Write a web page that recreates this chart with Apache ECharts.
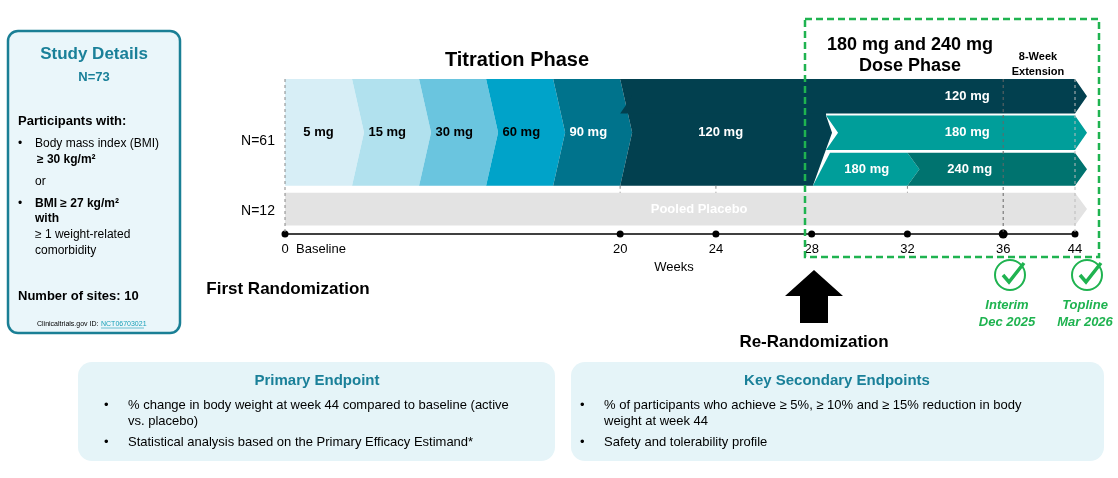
<!DOCTYPE html>
<html><head><meta charset="utf-8">
<script src="https://cdn.jsdelivr.net/npm/echarts@6/dist/echarts.min.js"></script>
<style>body{margin:0;background:#fff}#c{width:1118px;height:478px}</style>
</head><body><div id="c"></div>
<script>
// weeks on the axis and where each sits along it (axis is not linear)
var weekTicks = [0, 20, 24, 28, 32, 36, 44];
var tickSlots = [0, 3.5, 4.5, 5.5, 6.5, 7.5, 8.25];
// dose segments: [startWeek, endWeek, rowTop, rowBottom, left, right, color, label, labelWeek, textColor]
var titration = [
  [0, 4, 0, 3.1, 'flat', 'point', '#d7eef6', '5 mg', 2, '#000'],
  [4, 8, 0, 3.1, 'notch', 'point', '#b1e1ee', '15 mg', 6.1, '#000'],
  [8, 12, 0, 3.1, 'notch', 'point', '#6ac5df', '30 mg', 10.1, '#000'],
  [12, 16, 0, 3.1, 'notch', 'point', '#00a3c9', '60 mg', 14.1, '#000'],
  [16, 20, 0, 3.1, 'notch', 'point', '#00738c', '90 mg', 18.1, '#fff'],
  [20, 28.6, 0, 3.1, 'notch', 'split', '#02404f', '120 mg', 24.2, '#fff']
];
var dosePhase = [
  [20, 44, 0, 1, 'notch', 'point', '#02404f', '120 mg', 34.5, '#fff'],
  [28.6, 44, 1.06, 2.06, 'notch', 'point', '#009e9a', '180 mg', 34.5, '#fff'],
  [28.6, 32, 2.14, 3.1, 'slant', 'point', '#009e9a', '180 mg', 30.3, '#fff'],
  [32, 44, 2.14, 3.1, 'notch', 'point', '#00736f', '240 mg', 34.6, '#fff']
];
var placebo = [[0, 44, 3.3, 4.25, 'flat', 'point', '#e3e3e3', 'Pooled Placebo', 23.3, '#fff']];
var tickLabels = ['0', '20', '24', '28', '32', '36', '44'];

function slot(w) {
  for (var i = 1; i < weekTicks.length; i++) {
    if (w <= weekTicks[i]) {
      var a = weekTicks[i - 1], b = weekTicks[i];
      return tickSlots[i - 1] + (w - a) / (b - a) * (tickSlots[i] - tickSlots[i - 1]);
    }
  }
  return tickSlots[tickSlots.length - 1];
}

var segs = titration.concat(dosePhase, placebo);
var D = 12;
function renderSeg(params, api) {
  var s = segs[params.dataIndex];
  var p0 = api.coord([slot(s[0]), s[2]]), p1 = api.coord([slot(s[1]), s[3]]);
  var x0 = p0[0], x1 = p1[0], t = p0[1], b = p1[1], m = (t + b) / 2;
  var pts = [[x0, t], [x1, t]];
  if (s[5] === 'point') pts.push([x1 + D, m], [x1, b]);
  else if (s[5] === 'split') {
    var r2 = api.coord([0, 1.06])[1], r3 = api.coord([0, 2.06])[1];
    var xb = api.coord([slot(28.05), 0])[0];
    pts.push([x1, r2], [x1 + 6, (r2 + r3) / 2], [xb, b]);
  } else pts.push([x1, b]);
  if (s[4] === 'slant') {
    var xs = api.coord([slot(28.05), 0])[0];
    pts = [[x0 + 4, t], pts[1], pts[2], pts[3], [xs, b]];
  } else {
    pts.push([x0, b]);
    if (s[4] === 'notch') pts.push([x0 + D, m]);
  }
  var lx = api.coord([slot(s[8]), 0])[0];
  return {
    type: 'group',
    children: [
      { type: 'polygon', shape: { points: pts }, style: { fill: s[6] } },
      { type: 'text', x: lx, y: m, style: { text: s[7], fill: s[9], font: 'bold 13px Arial', align: 'center', verticalAlign: 'middle' } }
    ]
  };
}

function renderAxis(params, api) {
  var ch = [];
  var y = api.coord([0, 4.5])[1];
  var xs = api.coord([slot(0), 0])[0], xe = api.coord([slot(44), 0])[0];
  ch.push({ type: 'line', shape: { x1: xs, y1: y, x2: xe, y2: y }, style: { stroke: '#000', lineWidth: 1.5 } });
  weekTicks.forEach(function (w, i) {
    var x = api.coord([slot(w), 0])[0];
    ch.push({ type: 'circle', shape: { cx: x, cy: y, r: i === 5 ? 4.5 : 3.5 }, style: { fill: '#000' } });
    ch.push({ type: 'text', x: x, y: y + 15, style: { text: tickLabels[i], fill: '#000', font: '13px Arial', align: 'center', verticalAlign: 'middle' } });
  });
  var top = api.coord([0, 0])[1], r3b = api.coord([0, 3.1])[1], plt = api.coord([0, 3.3])[1];
  var dash = function (w, y1, y2, c) {
    var x = api.coord([slot(w), 0])[0];
    ch.push({ type: 'line', z2: 10, shape: { x1: x, y1: y1, x2: x, y2: y2 }, style: { stroke: c, lineWidth: 1, lineDash: [3, 3] } });
  };
  dash(0, top, y, '#888');
  [20, 24, 32].forEach(function (w) { dash(w, r3b, plt, '#888'); });
  dash(36, top, y, '#666');
  dash(44, top, y, '#bbb');
  return { type: 'group', children: ch };
}

var chart = echarts.init(document.getElementById('c'));
var T = function (x, y, text, font, fill, align) {
  return { type: 'text', x: x, y: y, style: { text: text, font: font, fill: fill || '#000', align: align || 'center', verticalAlign: 'middle' } };
};
var bullet = function (x, y, text) {
  return [T(x, y, '•', '13px Arial', '#000', 'left'), T(x + 24, y, text, '13px Arial', '#000', 'left')];
};
var graphics = [
  { type: 'rect', shape: { x: 8, y: 31, width: 172, height: 302, r: 10 }, style: { fill: '#eaf6fa', stroke: '#1a7f95', lineWidth: 2.5 } },
  T(94, 54, 'Study Details', 'bold 17px Arial', '#1a8099'),
  T(94, 77, 'N=73', 'bold 13px Arial', '#1a8099'),
  T(18, 121, 'Participants with:', 'bold 13px Arial', '#000', 'left'),
  T(18, 144, '•', '12px Arial', '#000', 'left'), T(35, 144, 'Body mass index (BMI)', '12px Arial', '#000', 'left'),
  T(37, 160, '≥ 30 kg/m²', 'bold 12px Arial', '#000', 'left'),
  T(35, 182, 'or', '12px Arial', '#000', 'left'),
  T(18, 204, '•', '12px Arial', '#000', 'left'), T(35, 204, 'BMI ≥ 27 kg/m²', 'bold 12px Arial', '#000', 'left'),
  T(35, 219, 'with', 'bold 12px Arial', '#000', 'left'),
  T(35, 235, '≥ 1 weight-related', '12px Arial', '#000', 'left'),
  T(35, 251, 'comorbidity', '12px Arial', '#000', 'left'),
  T(18, 296, 'Number of sites: 10', 'bold 13px Arial', '#000', 'left'),
  T(37, 324, 'Clinicaltrials.gov ID: ', '7px Arial', '#000', 'left'),
  T(101, 324, 'NCT06703021', '7px Arial', '#1aa0b8', 'left'),
  { type: 'line', shape: { x1: 101, y1: 328, x2: 144, y2: 328 }, style: { stroke: '#1aa0b8', lineWidth: 0.6 } },
  T(517, 60, 'Titration Phase', 'bold 20px Arial'),
  T(910, 45, '180 mg and 240 mg', 'bold 18px Arial'),
  T(910, 66, 'Dose Phase', 'bold 18px Arial'),
  T(1038, 57, '8-Week', 'bold 11px Arial'),
  T(1038, 72, 'Extension', 'bold 11px Arial'),
  T(258, 141, 'N=61', '14px Arial'),
  T(258, 211, 'N=12', '14px Arial'),
  T(296, 249, 'Baseline', '13px Arial', '#000', 'left'),
  T(674, 267, 'Weeks', '13px Arial'),
  T(288, 289, 'First Randomization', 'bold 17px Arial'),
  { type: 'polygon', shape: { points: [[814, 270], [843, 296], [828, 296], [828, 323], [800, 323], [800, 296], [785, 296]] }, style: { fill: '#000' } },
  T(814, 342, 'Re-Randomization', 'bold 17px Arial'),
  { type: 'rect', z: 20, shape: { x: 805, y: 19, width: 294, height: 238 }, style: { fill: 'none', stroke: '#1fb350', lineWidth: 2.5, lineDash: [7, 4] } },
  { type: 'circle', shape: { cx: 1010, cy: 275, r: 15 }, style: { fill: 'none', stroke: '#1fb350', lineWidth: 2 } },
  { type: 'polyline', shape: { points: [[1003, 275], [1009, 282], [1024, 263]] }, style: { stroke: '#1fb350', lineWidth: 3.5 } },
  { type: 'circle', shape: { cx: 1087, cy: 275, r: 15 }, style: { fill: 'none', stroke: '#1fb350', lineWidth: 2 } },
  { type: 'polyline', shape: { points: [[1080, 275], [1086, 282], [1101, 263]] }, style: { stroke: '#1fb350', lineWidth: 3.5 } },
  T(1007, 305, 'Interim', 'italic bold 13px Arial', '#1fb350'),
  T(1007, 322, 'Dec 2025', 'italic bold 13px Arial', '#1fb350'),
  T(1085, 305, 'Topline', 'italic bold 13px Arial', '#1fb350'),
  T(1085, 322, 'Mar 2026', 'italic bold 13px Arial', '#1fb350'),
  { type: 'rect', shape: { x: 78, y: 362, width: 477, height: 99, r: 14 }, style: { fill: '#e5f4f8' } },
  { type: 'rect', shape: { x: 571, y: 362, width: 533, height: 99, r: 14 }, style: { fill: '#e5f4f8' } },
  T(317, 381, 'Primary Endpoint', 'bold 15px Arial', '#1a8099'),
  T(837, 381, 'Key Secondary Endpoints', 'bold 15px Arial', '#1a8099'),
  T(128, 421, 'vs. placebo)', '13px Arial', '#000', 'left'),
  T(604, 421, 'weight at week 44', '13px Arial', '#000', 'left')
].concat(
  bullet(104, 405, '% change in body weight at week 44 compared to baseline (active'),
  bullet(104, 442, 'Statistical analysis based on the Primary Efficacy Estimand*'),
  bullet(580, 405, '% of participants who achieve ≥ 5%, ≥ 10% and ≥ 15% reduction in body'),
  bullet(580, 442, 'Safety and tolerability profile')
);

chart.setOption({
  animation: false,
  grid: { left: 285, width: 790, top: 79, height: 155 },
  xAxis: { type: 'value', min: 0, max: tickSlots[tickSlots.length - 1], show: false },
  yAxis: { type: 'value', min: 0, max: 4.5, inverse: true, show: false },
  graphic: graphics,
  series: [
    { type: 'custom', renderItem: renderSeg, data: segs.map(function (s, i) { return [i]; }), clip: false },
    { type: 'custom', renderItem: renderAxis, data: [[0]], clip: false, z: 3 }
  ]
});
</script></body></html>
